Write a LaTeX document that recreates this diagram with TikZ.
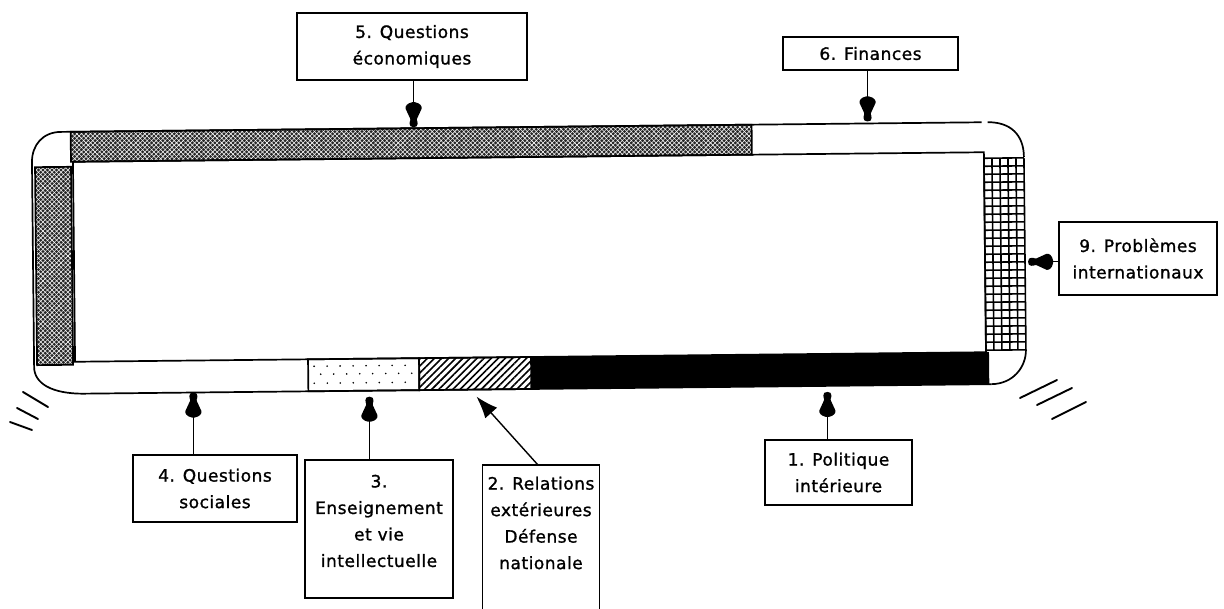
\documentclass[tikz,border=0pt]{standalone}
\usepackage{fontspec}
\newfontfamily\labfont{DejaVu Sans}[LetterSpace=3,FakeBold=1.2]
\usetikzlibrary{arrows.meta,patterns.meta}

% pushpin-shaped arrow tip
\pgfdeclarearrow{
  name = Pin,
  setup code = {
    \pgfarrowssettipend{0pt}
    \pgfarrowssetlineend{-18pt}
    \pgfarrowssetbackend{-25pt}
    \pgfarrowssetvisualbackend{-25pt}
    \pgfarrowshullpoint{0pt}{0pt}
    \pgfarrowshullpoint{-25pt}{8.5pt}
    \pgfarrowshullpoint{-25pt}{-8.5pt}
  },
  drawing code = {
    \pgfpathmoveto{\pgfqpoint{0pt}{0pt}}
    \pgfpathcurveto{\pgfqpoint{0pt}{3pt}}{\pgfqpoint{-1.5pt}{4pt}}{\pgfqpoint{-3.5pt}{4pt}}
    \pgfpathcurveto{\pgfqpoint{-5.5pt}{4pt}}{\pgfqpoint{-6.5pt}{3.6pt}}{\pgfqpoint{-7pt}{3.3pt}}
    \pgfpathlineto{\pgfqpoint{-8.5pt}{3.4pt}}
    \pgfpathlineto{\pgfqpoint{-18.5pt}{8pt}}
    \pgfpathcurveto{\pgfqpoint{-21pt}{8.6pt}}{\pgfqpoint{-24pt}{6.5pt}}{\pgfqpoint{-25pt}{1.5pt}}
    \pgfpathlineto{\pgfqpoint{-25pt}{-1.5pt}}
    \pgfpathcurveto{\pgfqpoint{-24pt}{-6.5pt}}{\pgfqpoint{-21pt}{-8.6pt}}{\pgfqpoint{-18.5pt}{-8pt}}
    \pgfpathlineto{\pgfqpoint{-8.5pt}{-3.4pt}}
    \pgfpathlineto{\pgfqpoint{-7pt}{-3.3pt}}
    \pgfpathcurveto{\pgfqpoint{-6.5pt}{-3.6pt}}{\pgfqpoint{-5.5pt}{-4pt}}{\pgfqpoint{-3.5pt}{-4pt}}
    \pgfpathcurveto{\pgfqpoint{-1.5pt}{-4pt}}{\pgfqpoint{0pt}{-3pt}}{\pgfqpoint{0pt}{0pt}}
    \pgfpathclose
    \pgfusepathqfill
  }
}

\begin{document}
\begin{tikzpicture}[x=1pt,y=-1pt,
  lbox/.style={draw,line width=1.3pt,inner sep=0pt,align=center,
    font={\labfont\fontsize{17}{26.5}\selectfont}},
  ltext/.style={inner sep=0pt,align=center,
    font={\labfont\fontsize{17}{26.5}\selectfont}},
  pinarrow/.style={line width=1.4pt,-{Pin}},
  outline/.style={line width=1.7pt},
  hatchmark/.style={line width=1.9pt,line cap=round},
  crossfill/.style={pattern={Lines[angle=45,distance=3.2pt,line width=0.55pt]},pattern color=white},
  crossfillb/.style={pattern={Lines[angle=-45,distance=3.2pt,line width=0.55pt]},pattern color=white},
]
\useasboundingbox (0,0) rectangle (1224,609);

% the seating hemicycle, slightly tilted
\begin{scope}[rotate around={0.6:(530,260)}]
  % 5. economic questions: top band
  \fill[black!85] (72,127) rectangle (753,157);
  \fill[crossfill] (72,127) rectangle (753,157);
  \fill[crossfillb] (72,127) rectangle (753,157);
  \draw[outline] (72,127) rectangle (753,157);
  % left band
  \fill[black!85] (36,162) rectangle (72,360);
  \fill[crossfill] (36,162) rectangle (72,360);
  \fill[crossfillb] (36,162) rectangle (72,360);
  \draw[outline] (36,162) rectangle (72,360);
  % 9. international problems: grid band
  \foreach \gx in {985,993,...,1025} \draw[line width=1.6pt] (\gx,163) -- (\gx,355);
  \foreach \gy in {163,171,...,355} \draw[line width=1.6pt] (985,\gy) -- (1025,\gy);
  % 3. education: dotted band
  \foreach \yy/\oo in {364/0,372/6.5,381/0}
    \foreach \k in {0,...,7} \fill ({313+\oo+13*\k},\yy) circle (0.9pt);
  \draw[outline] (307,357) rectangle (418,389);
  % 2. foreign relations: hatched band
  \fill[pattern={Lines[angle=45,distance=5pt,line width=1.6pt]},pattern color=black]
    (418,357) rectangle (530,389);
  \draw[outline] (418,357) rectangle (530,389);
  % 1. domestic policy: black band
  \fill (530,357) rectangle (988,389);
  % chamber floor
  \draw[outline] (74,157) rectangle (985,357);
  % outer outline
  \draw[outline] (60,127) -- (983,127);
  \draw[outline] (62,127) .. controls (44,127) and (33,140) .. (33,157) -- (33,362)
    .. controls (33,378) and (50,389) .. (83,389) -- (990,389);
  \draw[outline] (989,127) .. controls (1012,127) and (1025,140) .. (1025,162);
  \draw[outline] (1025,355) .. controls (1025,372) and (1012,389) .. (990,389);
  % arrow targets on the hemicycle
  \coordinate (t5) at (415,126);
  \coordinate (t6) at (869,125);
  \coordinate (t9) at (1028,267);
  \coordinate (t4) at (192,389);
  \coordinate (t3) at (368,395);
  \coordinate (t2) at (475,396);
  \coordinate (t1) at (826,395);
\end{scope}

% labels
\node[lbox,minimum width=230pt,minimum height=67pt] (b5) at (412,46.5) {5. Questions\\économiques};
\node[lbox,minimum width=175pt,minimum height=33pt] (b6) at (870.5,53.5) {6. Finances};
\node[lbox,minimum width=158pt,minimum height=73pt] (b9) at (1138,258.5) {9. Problèmes\\internationaux};
\node[lbox,minimum width=164pt,minimum height=67pt] (b4) at (215,488.5) {4. Questions\\sociales};
\node[draw,line width=1.3pt,minimum width=148pt,minimum height=138pt] (b3) at (379,529) {};
\node[ltext] (l3) at (379,521) {3.\\Enseignement\\et vie\\intellectuelle};
\node[minimum width=116pt,minimum height=170pt,anchor=north] (b2) at (541,465) {};
\draw[line width=1.3pt] (b2.south west) -- (b2.north west) -- (b2.north east) -- (b2.south east);
\node[ltext] (l2) at (541,523) {2. Relations\\extérieures\\Défense\\nationale};
\node[lbox,minimum width=147pt,minimum height=65pt] (b1) at (838.5,472.5) {1. Politique\\intérieure};

% connectors
\draw[pinarrow] (b5.south -| t5) -- (t5);
\draw[pinarrow] (b6.south -| t6) -- (t6);
\draw[pinarrow] (b9.west |- t9) -- (t9);
\draw[pinarrow] (b4.north -| t4) -- (t4);
\draw[pinarrow] (b3.north -| t3) -- (t3);
\draw[pinarrow] (b1.north -| t1) -- (t1);
\draw[line width=1.4pt,-{Latex[length=22pt,width=16pt]}] ([xshift=-3pt]b2.north) -- (t2);

% hatch marks at the lower corners
\draw[hatchmark] (23,392) -- (48,407);
\draw[hatchmark] (17,408) -- (38,419);
\draw[hatchmark] (10,422) -- (32,430);
\draw[hatchmark] (1020,398) -- (1057,380);
\draw[hatchmark] (1037,405) -- (1072,388);
\draw[hatchmark] (1052,419) -- (1086,402);
\end{tikzpicture}
\end{document}
